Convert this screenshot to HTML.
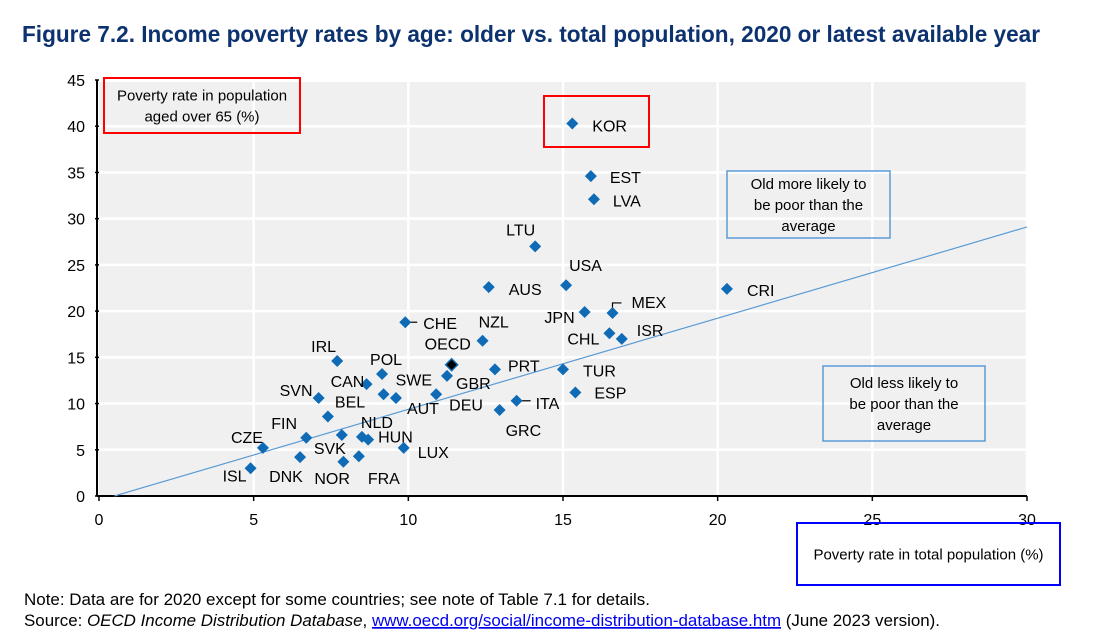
<!DOCTYPE html>
<html><head><meta charset="utf-8"><style>
body{margin:0;background:#fff;width:1103px;height:642px;overflow:hidden;font-family:"Liberation Sans",sans-serif}
svg{display:block}
</style></head><body>
<svg width="1103" height="642" font-family="Liberation Sans, sans-serif">
<text x="22" y="42" font-size="23" font-weight="bold" fill="#0d3270" textLength="1018" lengthAdjust="spacingAndGlyphs">Figure 7.2. Income poverty rates by age: older vs. total population, 2020 or latest available year</text>
<g id="plot"></g>
<text x="24" y="605" font-size="17" fill="#000" textLength="626" lengthAdjust="spacingAndGlyphs">Note: Data are for 2020 except for some countries; see note of Table 7.1 for details.</text>
<text x="24" y="626" font-size="17" fill="#000" textLength="916" lengthAdjust="spacingAndGlyphs">Source: <tspan font-style="italic">OECD Income Distribution Database</tspan>, <tspan fill="#0000ee" text-decoration="underline">www.oecd.org/social/income-distribution-database.htm</tspan> (June 2023 version).</text>
</svg>
<script>
const countries=["KOR","EST","LVA","LTU","USA","AUS","CRI","JPN","MEX","CHE","NZL","OECD","CHL","ISR","IRL","POL","CAN","GBR","PRT","SWE","AUT","DEU","SVN","BEL","ITA","GRC","TUR","ESP","FIN","CZE","SVK","NLD","HUN","LUX","DNK","NOR","FRA","ISL"];
const totalRate=[15.3,15.9,16.0,14.1,15.1,12.6,20.3,15.7,16.6,9.9,12.4,11.4,16.5,16.9,7.7,9.15,8.65,11.25,12.8,9.2,9.6,10.9,7.1,7.4,13.5,12.95,15.0,15.4,6.7,5.3,7.85,8.5,8.7,9.85,6.5,7.9,8.4,4.9];
const olderRate=[40.3,34.6,32.1,27.0,22.8,22.6,22.4,19.9,19.8,18.8,16.8,14.2,17.6,17.0,14.6,13.2,12.1,13.0,13.7,11.0,10.6,11.0,10.6,8.6,10.3,9.3,13.7,11.2,6.3,5.2,6.6,6.4,6.1,5.2,4.2,3.7,4.3,3.0];
const xTicks=[0,5,10,15,20,25,30];
const yTicks=[0,5,10,15,20,25,30,35,40,45];
const trendX=[0.5,30];
const trendY=[0,29.1];
const lblDx=[20,19,19,-29,3,20,20,-10,19,18,-4,-27,-10,15,-26,-12,-36,9,13,12,11,13,-39,7,19,6,20,19,-35,-32,-28,-1,10,14,-31,-29,9,-28];
const lblDy=[8,7,7,-11,-14,8,7,11,-5,7,-13,-15,11,-3,-9,-9,3,13,2,-9,16,16,-2,-9,8,26,7,6,-9,-5,19,-9,3,10,25,22,28,13];
const lblEnd=[0,0,0,0,0,0,0,1,0,0,0,0,1,0,0,0,0,0,0,0,0,0,0,0,0,0,0,0,0,0,0,0,0,0,0,0,0,0];
const X0=99,X1=1027,Y0=496,Y1=80;
const sx=v=>X0+(v-0)/(30-0)*(X1-X0);
const sy=v=>Y0-(v-0)/(45-0)*(Y0-Y1);
const NS="http://www.w3.org/2000/svg";
const g=document.getElementById('plot');
function mk(t,a){const e=document.createElementNS(NS,t);for(const k in a)e.setAttribute(k,a[k]);g.appendChild(e);return e;}
let e=mk('rect',{x:X0,y:sy(45)+2,width:X1-X0,height:Y0-sy(45)-2,fill:'#f0f0f0'});


yTicks.forEach(t=>{if(t>0){const l=mk('line',{x1:X0,x2:X1,y1:sy(t),y2:sy(t),stroke:'#fff','stroke-width':2.5});

}
const tk=mk('line',{x1:X0-4,x2:X0,y1:sy(t),y2:sy(t),stroke:'#000','stroke-width':1.5});


const tx=mk('text',{x:85,y:sy(t)+6,'font-size':16,'text-anchor':'end',fill:'#000'});tx.textContent=t;

});
xTicks.forEach(t=>{if(t>0){const l=mk('line',{x1:sx(t),x2:sx(t),y1:sy(45)+2,y2:Y0,stroke:'#fff','stroke-width':2.5});

}
const tk=mk('line',{x1:sx(t),x2:sx(t),y1:Y0,y2:Y0+5,stroke:'#000','stroke-width':1.5});


const tx=mk('text',{x:sx(t),y:525,'font-size':16,'text-anchor':'middle',fill:'#000'});tx.textContent=t;

});
e=mk('line',{x1:X0-2,x2:X0-2,y1:sy(45),y2:Y0,stroke:'#000','stroke-width':2});


e=mk('line',{x1:X0-2,x2:X1,y1:Y0,y2:Y0,stroke:'#000','stroke-width':2});


e=mk('line',{x1:sx(trendX[0]),y1:sy(trendY[0]),x2:sx(trendX[1]),y2:sy(trendY[1]),stroke:'#5b9bd5','stroke-width':1.2});


function lead(pts,name){const p=mk('polyline',{points:pts,fill:'none',stroke:'#000','stroke-width':1.2});

}
const iCHE=countries.indexOf('CHE'),iITA=countries.indexOf('ITA'),iMEX=countries.indexOf('MEX');
lead(`${sx(totalRate[iCHE])},${sy(olderRate[iCHE])} ${sx(totalRate[iCHE])+12},${sy(olderRate[iCHE])}`,'che-leader');
lead(`${sx(totalRate[iITA])},${sy(olderRate[iITA])} ${sx(totalRate[iITA])+14},${sy(olderRate[iITA])}`,'ita-leader');
lead(`${sx(totalRate[iMEX])},${sy(olderRate[iMEX])} ${sx(totalRate[iMEX])},${sy(olderRate[iMEX])-10} ${sx(totalRate[iMEX])+9},${sy(olderRate[iMEX])-10}`,'mex-leader');
countries.forEach((c,i)=>{const x=sx(totalRate[i]),y=sy(olderRate[i]);
const d=mk('polygon',{points:`${x},${y-6} ${x+6},${y} ${x},${y+6} ${x-6},${y}`,fill:c==='OECD'?'#000':'#0f6bb5',stroke:c==='OECD'?'#0f6bb5':'none','stroke-width':1.5});


const t=mk('text',{x:x+lblDx[i],y:y+lblDy[i],'font-size':16,fill:'#000','text-anchor':lblEnd[i]?'end':'start'});t.textContent=c;

});
function box(x,y,w,h,col,lines,name,fs){const r=mk('rect',{x:x,y:y,width:w,height:h,fill:'none',stroke:col,'stroke-width':col==='#5b9bd5'?1.5:2});


lines.forEach((s,k)=>{const t=mk('text',{x:x+w/2,y:y+(h-lines.length*21)/2+16+k*21,'font-size':fs||15,'text-anchor':'middle',fill:'#000'});t.textContent=s;

});}
box(104,78,196,55,'#ff0000',['Poverty rate in population','aged over 65 (%)'],'y-axis-title-box');
box(544,96,105,51,'#ff0000',[],'kor-highlight');
box(727,171,163,67,'#5b9bd5',['Old more likely to','be poor than the','average'],'annotation-above');
box(823,366,162,75,'#5b9bd5',['Old less likely to','be poor than the','average'],'annotation-below');
box(797,523,263,62,'#0000ff',['Poverty rate in total population (%)'],'x-axis-title-box');
</script>
</body></html>
